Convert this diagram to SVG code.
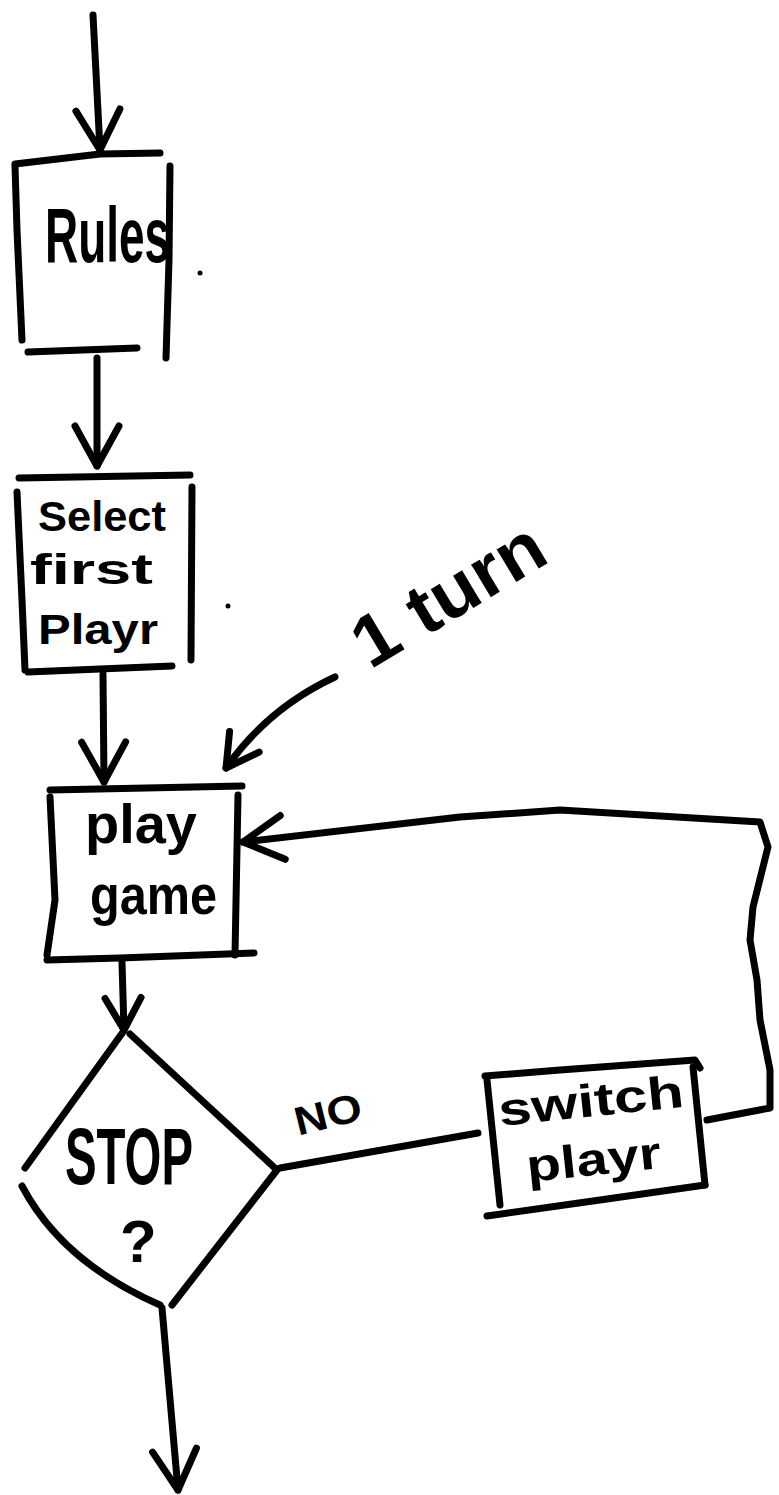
<svg xmlns="http://www.w3.org/2000/svg" width="779" height="1495" viewBox="0 0 779 1495">
  <style>
    .ink { fill: none; stroke: #000; stroke-width: 7; stroke-linecap: round; stroke-linejoin: round; }
    .hand { font-family: "Liberation Sans", "DejaVu Sans", sans-serif; font-weight: bold; fill: #000; }
  </style>
  <defs>
    <marker id="vhead" viewBox="-48 -30 56 60" markerWidth="56" markerHeight="60" markerUnits="userSpaceOnUse" refX="0" refY="0" orient="auto" overflow="visible">
      <path d="M-40,-22 L0,0 L-40,22" fill="none" stroke="#000" stroke-width="7" stroke-linecap="round" stroke-linejoin="round"/>
    </marker>
    <marker id="vhead-small" viewBox="-40 -25 48 50" markerWidth="48" markerHeight="50" markerUnits="userSpaceOnUse" refX="0" refY="0" orient="auto" overflow="visible">
      <path d="M-32,-18 L0,0 L-32,18" fill="none" stroke="#000" stroke-width="7" stroke-linecap="round" stroke-linejoin="round"/>
    </marker>
  </defs>
  <rect width="779" height="1495" fill="#fff"/>

  <!-- connectors -->
  <g id="connectors">
    <path class="ink" d="M93,15 L100,150" marker-end="url(#vhead)"/>
    <path class="ink" d="M97,358 L97,466" marker-end="url(#vhead)"/>
    <path class="ink" d="M103,674 L104,782" marker-end="url(#vhead)"/>
    <path class="ink" d="M335,677 Q268,708 226,768" marker-end="url(#vhead-small)"/>
    <path class="ink" d="M707,1120 L770,1108 L770,1070 L760,1020 L757,980 L750,940 L753,907 L768,847 L760,822 L560,810 L460,817 L243,842" marker-end="url(#vhead)"/>
    <path class="ink" d="M122,962 L124,1030" marker-end="url(#vhead-small)"/>
    <path class="ink" d="M280,1168 L478,1133"/>
    <path class="ink" d="M162,1308 L178,1490" marker-end="url(#vhead)"/>
    <text class="hand" font-size="40" x="293" y="1128" textLength="68" lengthAdjust="spacingAndGlyphs" transform="rotate(-14 327 1110)">NO</text>
    <text class="hand" font-size="72" x="370" y="670" textLength="212" lengthAdjust="spacingAndGlyphs" transform="rotate(-31 370 670)">1 turn</text>
  </g>

  <!-- Rules -->
  <g id="rules">
    <path class="ink" d="M15,164 L100,154 L160,153"/>
    <path class="ink" d="M15,166 L17,230 L22,340"/>
    <path class="ink" d="M170,166 L169,260 L166,358"/>
    <path class="ink" d="M28,352 L137,348"/>
    <text class="hand" font-size="78" x="45" y="262" textLength="125" lengthAdjust="spacingAndGlyphs">Rules</text>
  </g>

  <!-- Select first player -->
  <g id="select-first">
    <path class="ink" d="M19,478 L190,475"/>
    <path class="ink" d="M17,492 L22,600 L25,670"/>
    <path class="ink" d="M192,487 L191,660"/>
    <path class="ink" d="M28,672 L172,666"/>
    <text class="hand" font-size="42" x="38" y="531" textLength="128" lengthAdjust="spacingAndGlyphs">Select</text>
    <text class="hand" font-size="42" x="30" y="584" textLength="123" lengthAdjust="spacingAndGlyphs">first</text>
    <text class="hand" font-size="42" x="38" y="644" textLength="120" lengthAdjust="spacingAndGlyphs">Playr</text>
  </g>

  <!-- play game -->
  <g id="play-game">
    <path class="ink" d="M50,790 L242,786"/>
    <path class="ink" d="M50,797 L55,900 L47,955"/>
    <path class="ink" d="M238,795 L235,955"/>
    <path class="ink" d="M47,960 L120,958 L254,953"/>
    <text class="hand" font-size="56" x="85" y="843" textLength="112" lengthAdjust="spacingAndGlyphs">play</text>
    <text class="hand" font-size="56" x="90" y="914" textLength="127" lengthAdjust="spacingAndGlyphs">game</text>
  </g>

  <!-- STOP? decision -->
  <g id="stop">
    <path class="ink" d="M25,1168 L123,1032"/>
    <path class="ink" d="M130,1034 L277,1170 L172,1305"/>
    <path class="ink" d="M22,1186 Q62,1262 160,1305"/>
    <text class="hand" font-size="80" x="65" y="1184" textLength="128" lengthAdjust="spacingAndGlyphs">STOP</text>
    <text class="hand" font-size="60" x="120" y="1262">?</text>
  </g>

  <!-- switch player -->
  <g id="switch-player">
    <path class="ink" d="M485,1076 L560,1070 L695,1060 L700,1068"/>
    <path class="ink" d="M487,1080 L500,1205"/>
    <path class="ink" d="M693,1067 L705,1185"/>
    <path class="ink" d="M487,1216 L600,1200 L705,1185"/>
    <text class="hand" font-size="46" x="500" y="1126" textLength="186" lengthAdjust="spacingAndGlyphs" transform="rotate(-6 500 1126)">switch</text>
    <text class="hand" font-size="46" x="528" y="1182" textLength="135" lengthAdjust="spacingAndGlyphs" transform="rotate(-6 528 1182)">playr</text>
  </g>

  <!-- stray pen marks -->
  <circle cx="200" cy="273" r="2.5" fill="#000"/>
  <circle cx="228" cy="606" r="2.5" fill="#000"/>
</svg>
